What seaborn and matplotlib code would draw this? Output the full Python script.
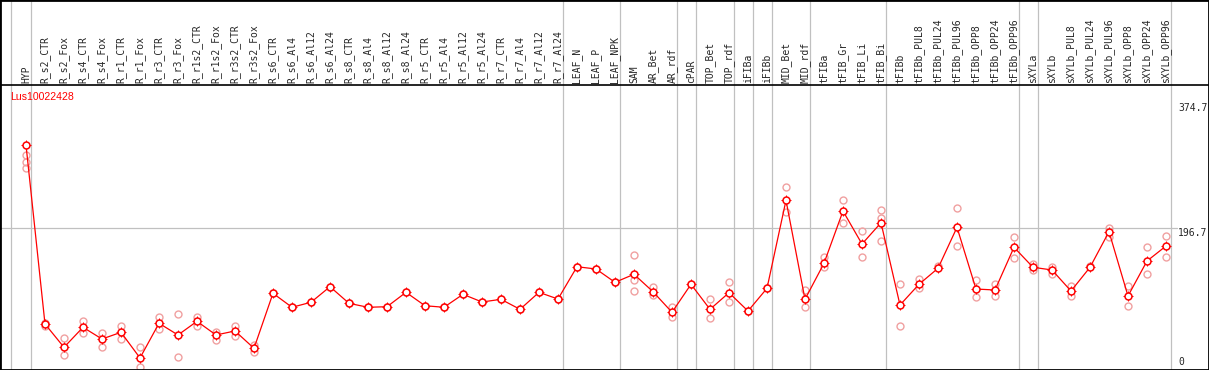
import matplotlib
matplotlib.use("Agg")
import matplotlib.pyplot as plt
import numpy as np
import pandas as pd
import seaborn as sns

sns.set_style("white")
plt.rcParams["font.family"] = ["DejaVu Sans Mono"]

GENE = "Lus10022428"

SAMPLES = [
    "HYP", "R_s2_CTR", "R_s2_Fox", "R_s4_CTR", "R_s4_Fox", "R_r1_CTR", "R_r1_Fox",
    "R_r3_CTR", "R_r3_Fox", "R_r1s2_CTR", "R_r1s2_Fox", "R_r3s2_CTR", "R_r3s2_Fox",
    "R_s6_CTR", "R_s6_Al4", "R_s6_Al12", "R_s6_Al24", "R_s8_CTR", "R_s8_Al4",
    "R_s8_Al12", "R_s8_Al24", "R_r5_CTR", "R_r5_Al4", "R_r5_Al12", "R_r5_Al24",
    "R_r7_CTR", "R_r7_Al4", "R_r7_Al12", "R_r7_Al24", "LEAF_N", "LEAF_P", "LEAF_NPK",
    "SAM", "AR_Bet", "AR_rdf", "cPAR", "TOP_Bet", "TOP_rdf", "iFIBa", "iFIBb",
    "MID_Bet", "MID_rdf", "tFIBa", "tFIB_Gr", "tFIB_Li", "tFIB_Bi", "tFIBb",
    "tFIBb_PUL8", "tFIBb_PUL24", "tFIBb_PUL96", "tFIBb_OPP8", "tFIBb_OPP24",
    "tFIBb_OPP96", "sXYLa", "sXYLb", "sXYLb_PUL8", "sXYLb_PUL24", "sXYLb_PUL96",
    "sXYLb_OPP8", "sXYLb_OPP24", "sXYLb_OPP96",
]

MAIN = [
    314.8, 61.0, 27.9, 56.3, 39.7, 49.2, 12.8, 62.0, 45.4, 64.8, 45.4, 51.1, 26.5,
    104.5, 84.7, 91.8, 113.9, 90.3, 84.7, 85.5, 105.9, 86.9, 84.7, 103.1, 92.2,
    96.0, 81.8, 105.9, 96.4, 142.2, 139.0, 120.1, 131.5, 106.8, 77.6, 117.3, 81.8,
    105.4, 79.4, 111.6, 236.4, 96.0, 147.1, 221.2, 174.4, 204.6, 87.9, 117.3, 140.0,
    198.1, 110.6, 109.2, 169.8, 141.4, 137.6, 107.8, 141.4, 191.9, 100.7, 150.3, 171.6,
]

REPS = [
    [300.7, 291.2, 281.8], [62.4, 58.1], [40.7, 16.6], [65.2, 48.6], [47.8, 28.8],
    [58.1, 39.3], [28.8, 0.0], [71.3, 53.9], [74.7, 14.6], [71.3, 58.6],
    [50.1, 38.3], [58.1, 44.4], [31.2, 21.7],
    [104.5], [84.7], [91.8], [113.9], [90.3], [84.7], [85.5], [105.9], [86.9],
    [84.7], [103.1], [92.2], [96.0], [81.8], [105.9], [96.4], [142.2], [139.0],
    [120.1], [158.8, 123.4, 107.8], [113.9, 102.1], [84.7, 71.3], [117.3],
    [96.0, 69.1], [120.5, 91.8], [79.4], [111.6], [254.8, 220.2], [109.2, 84.7],
    [155.6, 141.4], [236.4, 203.8], [192.5, 156.4], [222.7, 211.7, 178.7],
    [117.3, 58.1], [124.4, 112.5], [143.2], [225.1, 171.6], [123.4, 99.7],
    [117.7, 100.7], [183.9, 154.2], [145.6, 137.6], [142.2, 131.9], [114.9, 100.7],
    [143.2], [196.7, 184.8], [114.9, 86.5], [169.8, 131.5], [185.8, 156.4],
]

# last sample of each group (grey separators)
GROUP_ENDS = ["HYP", "R_r7_Al24", "LEAF_NPK", "AR_rdf", "cPAR", "TOP_rdf", "iFIBa",
              "iFIBb", "MID_rdf", "tFIB_Bi", "tFIBb_OPP96", "sXYLa", "sXYLb_OPP96"]

Y_TICKS = [374.7, 196.7, 0]

main_df = pd.DataFrame({"idx": np.arange(len(SAMPLES)), "value": MAIN})
rep_df = pd.DataFrame(
    [(i, v) for i, reps in enumerate(REPS) for v in reps], columns=["idx", "value"]
)

W, H = 1209, 370
fig = plt.figure(figsize=(W / 100, H / 100), dpi=100)
ax = fig.add_axes([0, 0, 1, 1])

# pixel mapping: sample i at x = 26 + 19 i ; value 0 at y = 367, 0.7051 px per unit
x0, dx = 26, 19
y0, k = 367, 0.7051
ax.set_xlim(-x0 / dx, (W - x0) / dx)
ax.set_ylim(-(H - y0) / k, y0 / k)

grey = "#c0c0c0"
pink = "#f0a0a0"

ax.axvline(-0.8, color=grey, lw=0.9, zorder=0)
for name in GROUP_ENDS:
    ax.axvline(SAMPLES.index(name) + 0.25, color=grey, lw=0.9, zorder=0)

x_right = (1177 - x0) / dx
ax.plot([ax.get_xlim()[0], x_right], [Y_TICKS[1]] * 2, color=grey, lw=0.9, zorder=0)

# header separator line
ax.plot([0, 1], [(H - 85) / H] * 2, color="black", lw=1.2, transform=ax.transAxes)

# replicate points
sns.lineplot(data=rep_df, x="idx", y="value", estimator=None, ax=ax,
             linestyle="", marker="o", markersize=5.0, markerfacecolor="none",
             markeredgecolor=pink, markeredgewidth=1.0, color=pink, zorder=2)

# main series
sns.lineplot(data=main_df, x="idx", y="value", ax=ax, color="red", lw=0.9, zorder=3)
sns.lineplot(data=main_df, x="idx", y="value", estimator=None, ax=ax, linestyle="",
             marker="+", markersize=7.0, markeredgecolor="red", markeredgewidth=0.7,
             color="red", zorder=4)
sns.lineplot(data=main_df, x="idx", y="value", estimator=None, ax=ax, linestyle="",
             marker="o", markersize=5.0, markerfacecolor="white",
             markeredgecolor="red", markeredgewidth=1.1, color="red", zorder=5)

# sample labels
for i, name in enumerate(SAMPLES):
    ax.text(i, (H - 83) / H, name, rotation=90, ha="center", va="bottom",
            fontsize=7, transform=ax.get_xaxis_transform())

# value labels on the right
xt = (1178 - x0) / dx
ax.text(xt, Y_TICKS[0], "374.7", ha="left", va="top", fontsize=7)
ax.text(xt, Y_TICKS[1], "196.7", ha="left", va="top", fontsize=7)
ax.text(xt, Y_TICKS[2], "0", ha="left", va="bottom", fontsize=7)

ax.text(-0.84, (H - 96.5) / H, GENE, color="red", fontsize=7.6, ha="left", va="center",
        family=["Liberation Sans"], transform=ax.get_xaxis_transform())

ax.set_xticks([])
ax.set_yticks([])
ax.set_xlabel("")
ax.set_ylabel("")
for s in ax.spines.values():
    s.set_visible(True)
    s.set_color("black")
    s.set_linewidth(2)

fig.savefig("out.png", dpi=100)
